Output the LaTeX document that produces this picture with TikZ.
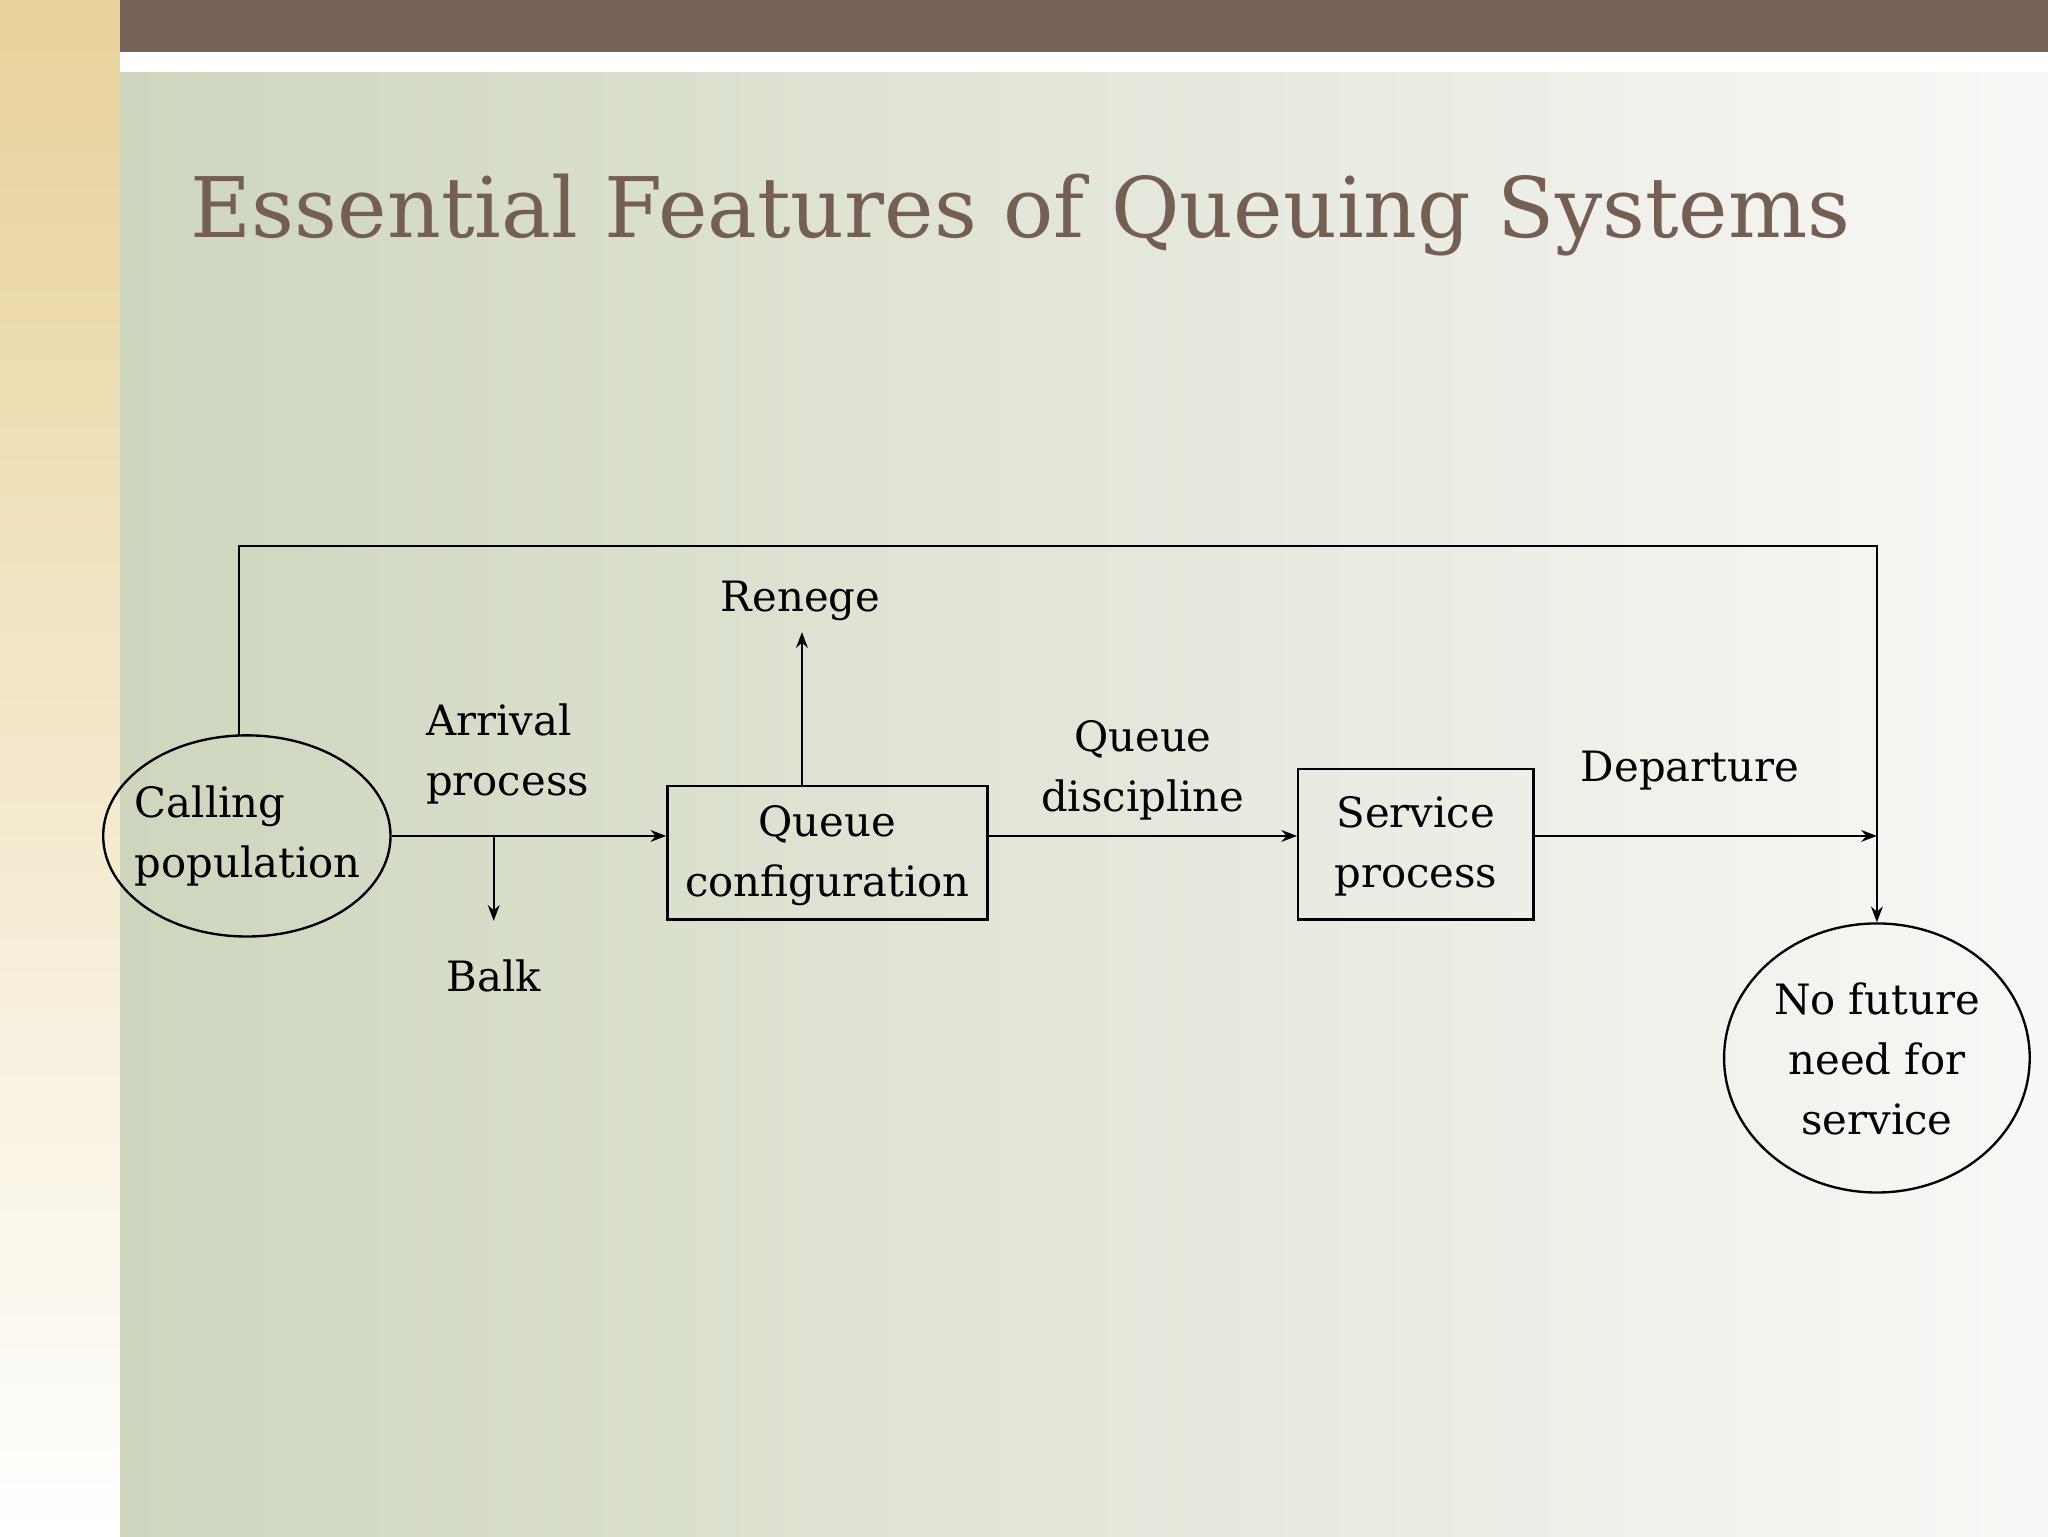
\documentclass[tikz,border=0pt]{standalone}
\usepackage{fontspec}
\setmainfont{DejaVu Serif}
\usetikzlibrary{shapes.geometric,arrows.meta}
\definecolor{bar}{RGB}{117,98,85}
\definecolor{ttl}{RGB}{117,95,83}
\definecolor{bgA}{RGB}{206,214,190}
\definecolor{bgM}{RGB}{238,238,232}
\definecolor{bgD}{RGB}{248,248,246}
\definecolor{gold}{RGB}{232,210,154}
\begin{document}
\begin{tikzpicture}[x=1pt,y=-1pt,
  lbl/.style={font=\fontsize{32}{46}\selectfont,align=center,inner sep=0pt},
  box/.style={draw,line width=1.8pt},
  arr/.style={line width=1.8pt,-{Stealth[length=12pt,width=9pt]}},
  ln/.style={line width=1.8pt}]
\useasboundingbox (0,0) rectangle (1568,1176);
\shade[top color=gold, bottom color=white] (0,0) rectangle (92,1176);
\shade[shading=axis,shading angle=-55,left color=bgA,middle color=bgM,right color=bgD] (92,55) rectangle (1568,1176);
\fill[white] (92,40) rectangle (1568,55);
\fill[bar] (92,0) rectangle (1568,40);
\node[anchor=west,text=ttl,font=\fontsize{64}{72}\selectfont,inner sep=0pt] (title) at (146,165) {Essential Features of Queuing Systems};

\node[box,ellipse,minimum width=220pt,minimum height=154pt] (cp) at (189,640) {};
\node[lbl,align=left,anchor=west] (cpt) at (103,640) {Calling\\population};
\node[box,minimum width=245pt,minimum height=102pt] (qc) at (633.5,653) {};
\node[lbl] (qct) at (633.5,655) {Queue\\configuration};
\node[box,minimum width=180pt,minimum height=115pt] (sp) at (1084,646.5) {};
\node[lbl] (spt) at (1084,648) {Service\\process};
\node[box,ellipse,minimum width=234pt,minimum height=206pt] (nf) at (1437,810) {};
\node[lbl] (nft) at (1437,811) {No future\\need for\\service};

\node[lbl,align=left,anchor=west] (ap) at (326,577) {Arrival\\process};
\node[lbl] (balk) at (378,747) {Balk};
\node[lbl] (ren) at (613,460) {Renege};
\node[lbl] (qd) at (875,590) {Queue\\discipline};
\node[lbl] (dep) at (1294,590) {Departure};

\coordinate (b1) at (378,640);
\coordinate (b2) at (378,705);
\coordinate (r2) at (614,484);
\coordinate (d2) at (1437,640);
\coordinate (f1) at (183,563);
\coordinate (f2) at (183,418);
\coordinate (f3) at (1437,418);

\draw[arr] (cp.east) -- (qc.west |- cp.east);
\draw[arr] (b1) -- (b2);
\draw[arr] (qc.north -| r2) -- (r2);
\draw[arr] (qc.west |- cp.east) ++(245,0) -- (sp.west |- cp.east);
\draw[arr] (sp.east |- d2) -- (d2);
\draw[arr] (f1) -- (f2) -- (f3) -- (nf.north);
\end{tikzpicture}
\end{document}
